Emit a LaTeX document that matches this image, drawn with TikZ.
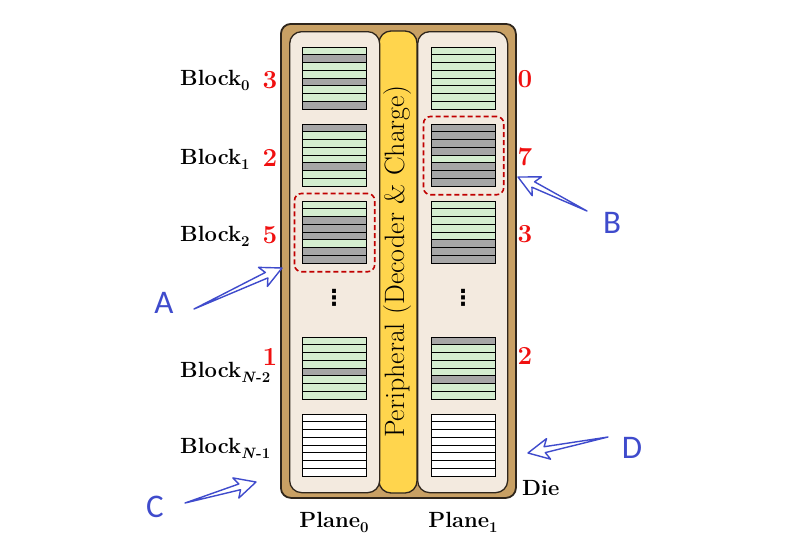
\documentclass[tikz,border=0pt]{standalone}
\usepackage{fontspec}
\newfontfamily\markfont{Carlito}
\newfontfamily\dotsfont{DejaVu Sans}
\usepackage{tikz}
\usetikzlibrary{
    calc,
    fit
}
\definecolor{dieTan}{HTML}{C8A064}
\definecolor{dieEdge}{HTML}{2E251B}
\definecolor{planeBeige}{HTML}{F3EADF}
\definecolor{periphGold}{HTML}{FFD54D}
\definecolor{rowL}{HTML}{D4EDCF}
\definecolor{rowG}{HTML}{A6A6A6}
\definecolor{rowW}{HTML}{FFFFFF}
\definecolor{numRed}{HTML}{F01010}
\definecolor{selRed}{HTML}{C00000}
\definecolor{markBlue}{HTML}{3F4BCC}
\tikzstyle{die} = [
    rectangle,
    draw=dieEdge,
    fill=dieTan,
    line width=1.8pt,
    rounded corners=10pt,
    inner sep=0pt
]
\tikzstyle{plane} = [
    rectangle,
    draw=dieEdge,
    fill=planeBeige,
    line width=1.3pt,
    rounded corners=12pt,
    inner sep=0pt,
    minimum width=90pt,
    minimum height=461pt
]
\tikzstyle{periph} = [
    rectangle,
    draw=dieEdge,
    fill=periphGold,
    line width=1.3pt,
    rounded corners=12pt,
    inner sep=0pt,
    font=\fontsize{28}{32}\selectfont
]
\tikzstyle{blockframe} = [
    rectangle,
    draw=black,
    line width=1.2pt,
    inner sep=0pt,
    minimum width=64pt,
    minimum height=62pt
]
\tikzstyle{blklabel} = [
    anchor=base west,
    inner sep=0pt,
    font=\bfseries\fontsize{22}{26}\selectfont
]
\tikzstyle{count} = [
    anchor=base,
    inner sep=0pt,
    text=numRed,
    font=\bfseries\fontsize{26}{30}\selectfont
]
\tikzstyle{hilite} = [
    rectangle,
    draw=selRed,
    dash pattern=on 5pt off 3pt,
    line width=1.6pt,
    rounded corners=7pt,
    inner sep=7.5pt
]
\tikzstyle{marker} = [
    anchor=base,
    inner sep=0pt,
    text=markBlue,
    font=\markfont\fontsize{33}{36}\selectfont
]
\tikzstyle{hollow} = [
    draw=markBlue,
    fill=white,
    line width=1.4pt,
    line join=round
]
\tikzstyle{moredots} = [
    inner sep=0pt,
    font=\dotsfont\bfseries\fontsize{22}{24}\selectfont
]
% lowered index after a block or plane name
\newcommand{\blksub}[1]{\raisebox{-5pt}{\fontsize{15}{15}\selectfont #1}}
% one block: x, y (top), name, row colours
\newcommand{\flashblock}[4]{%
    \foreach \c [count=\i from 0] in {#4}
        \filldraw[fill=row\c, draw=black, line width=0.9pt] (#1,#2+\i*7.75) rectangle ++(64,7.75);
    \node[blockframe, anchor=north west] (#3) at (#1,#2) {};
}
% outlined arrow from tail to tip
\newcommand{\hollowarrow}[2]{%
    \draw[hollow] (#1)
        -- ($(#2)!17pt!(#1)!3pt!90:(#2)$)
        -- ($(#2)!21pt!(#1)!10.5pt!90:(#2)$)
        -- (#2)
        -- ($(#2)!21pt!(#1)!10.5pt!-90:(#2)$)
        -- ($(#2)!17pt!(#1)!3pt!-90:(#2)$)
        -- cycle;
}

\begin{document}
\begin{tikzpicture}[x=1pt, y=-1pt]
        \useasboundingbox (0,0) rectangle (797,550);

        % Die and planes
        \node[die, minimum width=235pt, minimum height=474pt, anchor=north west] (die) at (280,23) {};
        \node[periph, rotate=90, minimum width=462pt, minimum height=38pt] (periph) at (398,262) {Peripheral (Decoder \& Charge)};
        \node[plane, anchor=north west] (plane0) at (289,31) {};
        \node[plane, anchor=north west] (plane1) at (417,31) {};

        % Blocks of plane 0
        \flashblock{302}{47}{b00}{L,G,L,L,G,L,L,G}
        \flashblock{302}{124}{b01}{G,L,L,L,L,G,L,L}
        \flashblock{302}{201}{b02}{L,L,G,G,G,L,G,G}
        \flashblock{302}{337}{b03}{L,L,L,L,G,L,L,L}
        \flashblock{302}{414}{b04}{W,W,W,W,W,W,W,W}

        % Blocks of plane 1
        \flashblock{431}{47}{b10}{L,L,L,L,L,L,L,L}
        \flashblock{431}{124}{b11}{G,G,G,G,L,G,G,G}
        \flashblock{431}{201}{b12}{L,L,L,L,L,G,G,G}
        \flashblock{431}{337}{b13}{G,L,L,L,L,G,L,L}
        \flashblock{431}{414}{b14}{W,W,W,W,W,W,W,W}

        \node[moredots] (dots0) at (334,298) {⋮};
        \node[moredots] (dots1) at (463,298) {⋮};

        % Selected blocks
        \node[hilite, fit=(b02)] (sel0) {};
        \node[hilite, fit=(b11)] (sel1) {};

        % Block names
        \node[blklabel] (lbl0) at (180,85) {Block\blksub{0}};
        \node[blklabel] (lbl1) at (180,164) {Block\blksub{1}};
        \node[blklabel] (lbl2) at (180,241) {Block\blksub{2}};
        \node[blklabel] (lbl3) at (180,377) {Block\blksub{\textit{N}-2}};
        \node[blklabel] (lbl4) at (180,453) {Block\blksub{\textit{N}-1}};

        % Counts
        \node[count] (n00) at (270,88) {3};
        \node[count] (n01) at (270,166) {2};
        \node[count] (n02) at (270,243) {5};
        \node[count] (n03) at (270,365) {1};
        \node[count] (n10) at (525,87) {0};
        \node[count] (n11) at (525,165) {7};
        \node[count] (n12) at (525,242) {3};
        \node[count] (n13) at (525,364) {2};

        \node[blklabel, anchor=base] (pl0) at (334,527) {Plane\blksub{0}};
        \node[blklabel, anchor=base] (pl1) at (463,527) {Plane\blksub{1}};
        \node[blklabel] (dielbl) at (522,495) {Die};

        % Markers
        \node[marker] (mA) at (164,313) {A};
        \node[marker] (mB) at (612,233) {B};
        \node[marker] (mC) at (155,517) {C};
        \node[marker] (mD) at (632,458) {D};

        \coordinate (tA) at (194,309);
        \coordinate (hA) at (282,268);
        \coordinate (tB) at (587,211);
        \coordinate (hB) at (518,177);
        \coordinate (tC) at (185,503);
        \coordinate (hC) at (256,482);
        \coordinate (tD) at (608,437);
        \coordinate (hD) at (528,453);
        \hollowarrow{tA}{hA}
        \hollowarrow{tB}{hB}
        \hollowarrow{tC}{hC}
        \hollowarrow{tD}{hD}
    \end{tikzpicture}
\end{document}
